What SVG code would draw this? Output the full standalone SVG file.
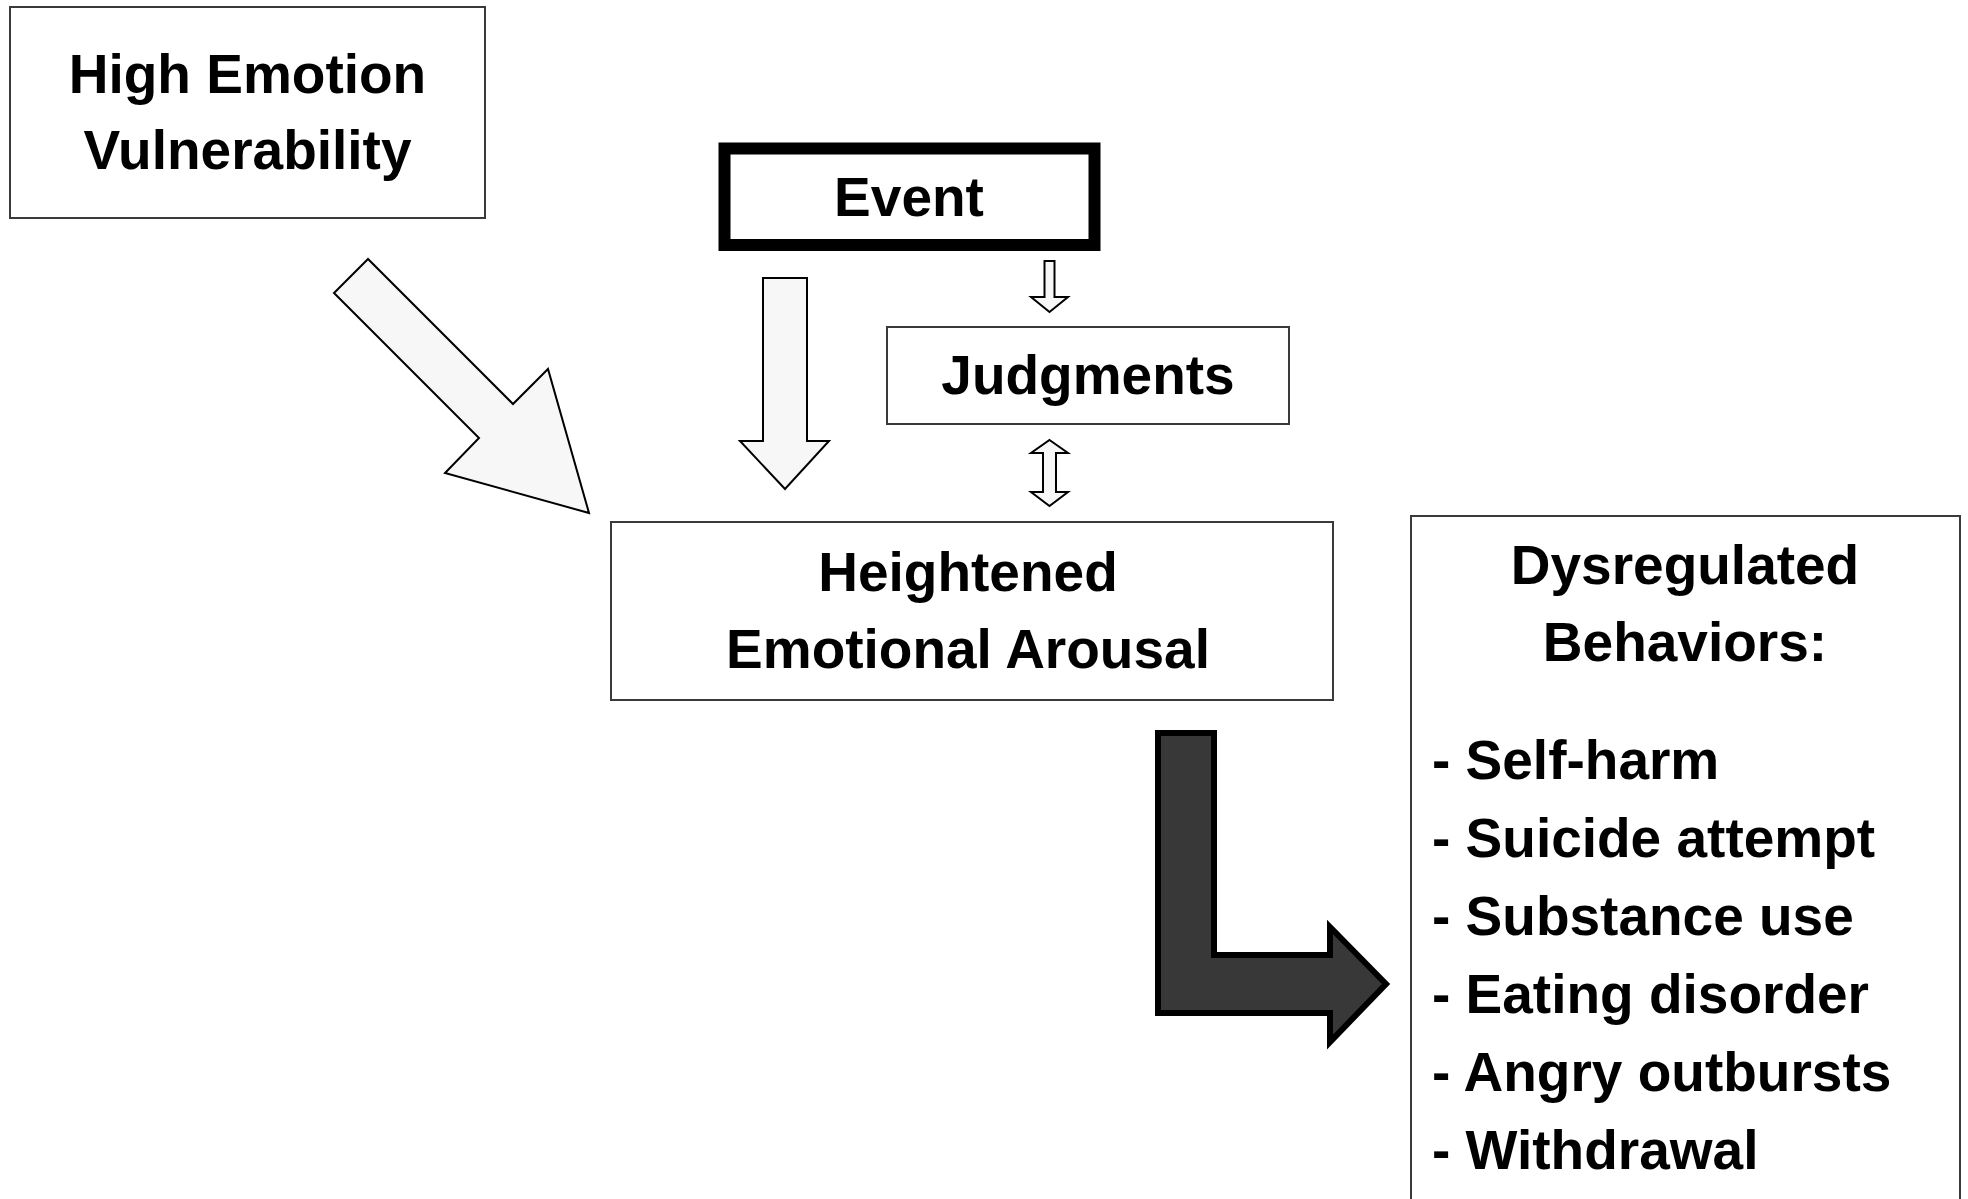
<svg xmlns="http://www.w3.org/2000/svg" width="1968" height="1199" viewBox="0 0 1968 1199">
<style>
.box{fill:#ffffff;stroke:#3a3a3a;stroke-width:2}
.lbl{font-family:"Liberation Sans",Arial,sans-serif;font-weight:bold;font-size:55px;fill:#000000}
.c{text-anchor:middle}
.arr{fill:#f7f7f7;stroke:#000000;stroke-width:2;stroke-linejoin:miter}
.dark{fill:#383838;stroke:#000000;stroke-width:6;stroke-linejoin:miter}
</style>
<rect width="1968" height="1199" fill="#ffffff"/>
<g id="connectors">
  <polygon class="arr" points="368,259 334,293 479,438 445,473 589,513 548,369 513,404"/>
  <polygon class="arr" points="763,278 807,278 807,441 829,441 785,489 740,441 763,441"/>
  <polygon class="arr" points="1044.5,261 1054.5,261 1054.5,297 1068,297 1049.5,312 1031,297 1044.5,297"/>
  <polygon class="arr" points="1049.5,440 1068,453 1056,453 1056,492 1068,492 1049.5,506 1031,492 1043,492 1043,453 1031,453"/>
  <polygon class="dark" points="1158,733 1214,733 1214,955 1330,955 1330,927 1386,984 1330,1042 1330,1013 1158,1013"/>
</g>
<g id="vulnerability">
  <rect class="box" x="10" y="7" width="475" height="211"/>
  <text class="lbl c" x="247.5" y="93">High Emotion</text>
  <text class="lbl c" x="247.5" y="169">Vulnerability</text>
</g>
<g id="event">
  <rect x="724.5" y="148.5" width="370" height="96.5" fill="#ffffff" stroke="#000000" stroke-width="12"/>
  <text class="lbl c" x="909" y="216">Event</text>
</g>
<g id="judgments">
  <rect class="box" x="887" y="327" width="402" height="97"/>
  <text class="lbl c" x="1088" y="394">Judgments</text>
</g>
<g id="arousal">
  <rect class="box" x="611" y="522" width="722" height="178"/>
  <text class="lbl c" x="968" y="591">Heightened</text>
  <text class="lbl c" x="968" y="668">Emotional Arousal</text>
</g>
<g id="behaviors">
  <rect class="box" x="1411" y="516" width="549" height="700"/>
  <text class="lbl c" x="1685" y="584">Dysregulated</text>
  <text class="lbl c" x="1685" y="661">Behaviors:</text>
  <text class="lbl" x="1432" y="779">- Self-harm</text>
  <text class="lbl" x="1432" y="857">- Suicide attempt</text>
  <text class="lbl" x="1432" y="935">- Substance use</text>
  <text class="lbl" x="1432" y="1013">- Eating disorder</text>
  <text class="lbl" x="1432" y="1091">- Angry outbursts</text>
  <text class="lbl" x="1432" y="1169">- Withdrawal</text>
</g>
</svg>
